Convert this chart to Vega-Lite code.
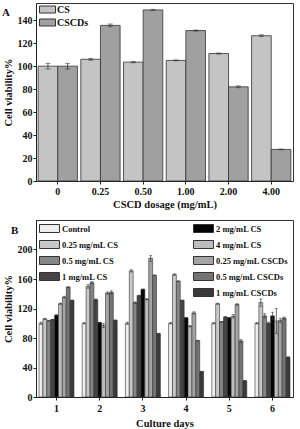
{
  "$schema": "https://vega.github.io/schema/vega-lite/v6.json",
  "padding": {"left": 1, "top": 2, "right": 5, "bottom": 0},
  "autosize": {"type": "pad"},
  "spacing": 9,
  "resolve": {"scale": {"x": "independent", "xOffset": "independent", "y": "independent", "fill": "independent"}},
  "config": {
    "font": "Liberation Serif",
    "view": {"stroke": "#333", "strokeWidth": 1},
    "axis": {
      "labelFont": "Liberation Serif", "labelFontWeight": "bold", "labelFontSize": 10, "labelColor": "#111",
      "titleFont": "Liberation Serif", "titleFontWeight": "bold", "titleFontSize": 10.5, "titleColor": "#111",
      "domainColor": "#222", "tickColor": "#222", "tickSize": 3, "grid": false, "labelPadding": 1
    },
    "legend": {"labelFont": "Liberation Serif", "labelFontWeight": "bold", "labelColor": "#111"}
  },
  "vconcat": [
    {
      "title": {"text": "A", "anchor": "start", "frame": "group", "font": "Liberation Serif", "fontSize": 11, "fontWeight": "bold", "color": "#111", "offset": -15, "dx": -34},
      "width": 257,
      "height": 178,
      "data": {"values": [
        {"dosage": "0", "kind": "CS", "value": 100, "err": 2.5},
        {"dosage": "0", "kind": "CSCDs", "value": 100, "err": 2.5},
        {"dosage": "0.25", "kind": "CS", "value": 106, "err": 0.8},
        {"dosage": "0.25", "kind": "CSCDs", "value": 135.5, "err": 1.2},
        {"dosage": "0.50", "kind": "CS", "value": 103.5, "err": 0.6},
        {"dosage": "0.50", "kind": "CSCDs", "value": 149, "err": 0.5},
        {"dosage": "1.00", "kind": "CS", "value": 105, "err": 0.4},
        {"dosage": "1.00", "kind": "CSCDs", "value": 131, "err": 0.5},
        {"dosage": "2.00", "kind": "CS", "value": 111, "err": 0.5},
        {"dosage": "2.00", "kind": "CSCDs", "value": 82, "err": 0.8},
        {"dosage": "4.00", "kind": "CS", "value": 126.5, "err": 0.8},
        {"dosage": "4.00", "kind": "CSCDs", "value": 27.5, "err": 0.3}
      ]},
      "encoding": {
        "x": {"field": "dosage", "type": "nominal", "sort": ["0", "0.25", "0.50", "1.00", "2.00", "4.00"],
              "scale": {"paddingInner": 0.08, "paddingOuter": 0.05},
              "axis": {"title": "CSCD dosage (mg/mL)", "labelAngle": 0, "labelPadding": 2, "titlePadding": 3}},
        "xOffset": {"field": "kind", "type": "nominal", "sort": null, "scale": {"domain": ["CS", "CSCDs"], "paddingInner": 0, "paddingOuter": 0}},
        "y": {"field": "value", "type": "quantitative", "scale": {"domain": [0, 155], "nice": false},
              "axis": {"title": "Cell viability%", "values": [0, 20, 40, 60, 80, 100, 120, 140], "titlePadding": 4, "labelOverlap": false}}
      },
      "layer": [
        {
          "mark": {"type": "bar", "stroke": "#333", "strokeWidth": 0.8},
          "encoding": {
            "fill": {"field": "kind", "type": "nominal",
                     "scale": {"domain": ["CS", "CSCDs"], "range": ["#c4c4c4", "#a0a0a0"]},
                     "legend": {"title": null, "orient": "top-left", "offset": 1, "padding": 0,
                                "symbolType": "M-1.6,-0.7H1.6V0.7H-1.6Z", "symbolSize": 100,
                                "symbolStrokeColor": "#333", "symbolStrokeWidth": 1, "symbolOffset": 5,
                                "labelOffset": 4, "labelFontSize": 10, "rowPadding": 2}}
          }
        },
        {
          "mark": {"type": "errorbar", "ticks": {"size": 5}, "color": "#333", "thickness": 0.8},
          "encoding": {"yError": {"field": "err"}}
        }
      ]
    },
    {
      "title": {"text": "B", "anchor": "start", "frame": "group", "font": "Liberation Serif", "fontSize": 11, "fontWeight": "bold", "color": "#111", "offset": -16, "dx": -25},
      "width": 257,
      "height": 177,
      "data": {"values": [
        {"day": 1, "series": "Control", "value": 100, "err": 1.5},
        {"day": 1, "series": "0.25 mg/mL CS", "value": 106, "err": 0.8},
        {"day": 1, "series": "0.5 mg/mL CS", "value": 103.5, "err": 0.6},
        {"day": 1, "series": "1 mg/mL CS", "value": 105, "err": 0.4},
        {"day": 1, "series": "2 mg/mL CS", "value": 111, "err": 0.5},
        {"day": 1, "series": "4 mg/mL CS", "value": 126.5, "err": 0.8},
        {"day": 1, "series": "0.25 mg/mL CSCDs", "value": 135.5, "err": 1.2},
        {"day": 1, "series": "0.5 mg/mL CSCDs", "value": 149, "err": 0.5},
        {"day": 1, "series": "1 mg/mL CSCDs", "value": 131, "err": 0.5},
        {"day": 2, "series": "Control", "value": 100, "err": 1},
        {"day": 2, "series": "0.25 mg/mL CS", "value": 150, "err": 2.5},
        {"day": 2, "series": "0.5 mg/mL CS", "value": 155, "err": 1.5},
        {"day": 2, "series": "1 mg/mL CS", "value": 132, "err": 1},
        {"day": 2, "series": "2 mg/mL CS", "value": 101, "err": 0.5},
        {"day": 2, "series": "4 mg/mL CS", "value": 97, "err": 3},
        {"day": 2, "series": "0.25 mg/mL CSCDs", "value": 141, "err": 1.5},
        {"day": 2, "series": "0.5 mg/mL CSCDs", "value": 142, "err": 2},
        {"day": 2, "series": "1 mg/mL CSCDs", "value": 104, "err": 0.5},
        {"day": 3, "series": "Control", "value": 100, "err": 1.5},
        {"day": 3, "series": "0.25 mg/mL CS", "value": 171, "err": 1.5},
        {"day": 3, "series": "0.5 mg/mL CS", "value": 128, "err": 1},
        {"day": 3, "series": "1 mg/mL CS", "value": 137.5, "err": 0.5},
        {"day": 3, "series": "2 mg/mL CS", "value": 146, "err": 0.5},
        {"day": 3, "series": "4 mg/mL CS", "value": 132.5, "err": 1},
        {"day": 3, "series": "0.25 mg/mL CSCDs", "value": 188, "err": 4},
        {"day": 3, "series": "0.5 mg/mL CSCDs", "value": 165, "err": 0.5},
        {"day": 3, "series": "1 mg/mL CSCDs", "value": 86, "err": 0.5},
        {"day": 4, "series": "Control", "value": 100, "err": 1},
        {"day": 4, "series": "0.25 mg/mL CS", "value": 166, "err": 1},
        {"day": 4, "series": "0.5 mg/mL CS", "value": 157, "err": 0.5},
        {"day": 4, "series": "1 mg/mL CS", "value": 131, "err": 0.5},
        {"day": 4, "series": "2 mg/mL CS", "value": 107.5, "err": 0.5},
        {"day": 4, "series": "4 mg/mL CS", "value": 96, "err": 1},
        {"day": 4, "series": "0.25 mg/mL CSCDs", "value": 114, "err": 1.5},
        {"day": 4, "series": "0.5 mg/mL CSCDs", "value": 76.5, "err": 0.5},
        {"day": 4, "series": "1 mg/mL CSCDs", "value": 34.5, "err": 0.5},
        {"day": 5, "series": "Control", "value": 100, "err": 1},
        {"day": 5, "series": "0.25 mg/mL CS", "value": 126.5, "err": 0.8},
        {"day": 5, "series": "0.5 mg/mL CS", "value": 102, "err": 0.5},
        {"day": 5, "series": "1 mg/mL CS", "value": 108.5, "err": 0.5},
        {"day": 5, "series": "2 mg/mL CS", "value": 107.5, "err": 0.5},
        {"day": 5, "series": "4 mg/mL CS", "value": 109.5, "err": 2.5},
        {"day": 5, "series": "0.25 mg/mL CSCDs", "value": 125.5, "err": 1},
        {"day": 5, "series": "0.5 mg/mL CSCDs", "value": 76, "err": 2},
        {"day": 5, "series": "1 mg/mL CSCDs", "value": 22, "err": 0.5},
        {"day": 6, "series": "Control", "value": 100, "err": 1},
        {"day": 6, "series": "0.25 mg/mL CS", "value": 128, "err": 5},
        {"day": 6, "series": "0.5 mg/mL CS", "value": 110, "err": 3},
        {"day": 6, "series": "1 mg/mL CS", "value": 100, "err": 1.5},
        {"day": 6, "series": "2 mg/mL CS", "value": 110, "err": 5},
        {"day": 6, "series": "4 mg/mL CS", "value": 103, "err": 17},
        {"day": 6, "series": "0.25 mg/mL CSCDs", "value": 104, "err": 3},
        {"day": 6, "series": "0.5 mg/mL CSCDs", "value": 107, "err": 1.5},
        {"day": 6, "series": "1 mg/mL CSCDs", "value": 54, "err": 0.5}
      ]},
      "encoding": {
        "x": {"field": "day", "type": "ordinal",
              "scale": {"paddingInner": 0.19, "paddingOuter": 0.07},
              "axis": {"title": "Culture days", "labelAngle": 0, "labelPadding": 3, "titlePadding": 5}},
        "xOffset": {"field": "series", "type": "nominal", "sort": null,
                    "scale": {"domain": ["Control", "0.25 mg/mL CS", "0.5 mg/mL CS", "1 mg/mL CS", "2 mg/mL CS", "4 mg/mL CS", "0.25 mg/mL CSCDs", "0.5 mg/mL CSCDs", "1 mg/mL CSCDs"], "paddingInner": 0, "paddingOuter": 0}},
        "y": {"field": "value", "type": "quantitative", "scale": {"domain": [0, 240], "nice": false},
              "axis": {"title": "Cell viability%", "values": [0, 40, 80, 120, 160, 200], "titlePadding": 4, "labelOverlap": false}}
      },
      "layer": [
        {
          "transform": [{"filter": {"field": "series", "oneOf": ["Control", "0.25 mg/mL CS", "0.5 mg/mL CS", "1 mg/mL CS"]}}],
          "mark": {"type": "bar", "stroke": "#333", "strokeWidth": 0.6},
          "encoding": {
            "fill": {"field": "series", "type": "nominal",
                     "scale": {"domain": ["Control", "0.25 mg/mL CS", "0.5 mg/mL CS", "1 mg/mL CS"], "range": ["#eeeeee", "#c8c8c8", "#858585", "#444444"]},
                     "legend": {"title": null, "orient": "top-left", "offset": 4, "padding": 0,
                                "symbolType": "M-2.5,-1H2.5V1H-2.5Z", "symbolSize": 64,
                                "symbolStrokeColor": "#333", "symbolStrokeWidth": 1, "symbolOffset": 5,
                                "labelOffset": 8, "labelFontSize": 8.5, "rowPadding": 3}}
          }
        },
        {
          "transform": [{"filter": {"field": "series", "oneOf": ["2 mg/mL CS", "4 mg/mL CS", "0.25 mg/mL CSCDs", "0.5 mg/mL CSCDs", "1 mg/mL CSCDs"]}}],
          "mark": {"type": "bar", "stroke": "#333", "strokeWidth": 0.6},
          "encoding": {
            "fill": {"field": "series", "type": "nominal",
                     "scale": {"domain": ["2 mg/mL CS", "4 mg/mL CS", "0.25 mg/mL CSCDs", "0.5 mg/mL CSCDs", "1 mg/mL CSCDs"], "range": ["#050505", "#bdbdbd", "#a4a4a4", "#747474", "#3a3a3a"]},
                     "legend": {"title": null, "orient": "top-right", "offset": 4, "padding": 0,
                                "symbolType": "M-2.5,-1H2.5V1H-2.5Z", "symbolSize": 64,
                                "symbolStrokeColor": "#333", "symbolStrokeWidth": 1, "symbolOffset": 5,
                                "labelOffset": 8, "labelFontSize": 8.5, "rowPadding": 3}}
          }
        },
        {
          "mark": {"type": "errorbar", "ticks": {"size": 3}, "color": "#333", "thickness": 0.7},
          "encoding": {"yError": {"field": "err"}}
        }
      ],
      "resolve": {"scale": {"fill": "independent"}, "legend": {"fill": "independent"}}
    }
  ]
}
